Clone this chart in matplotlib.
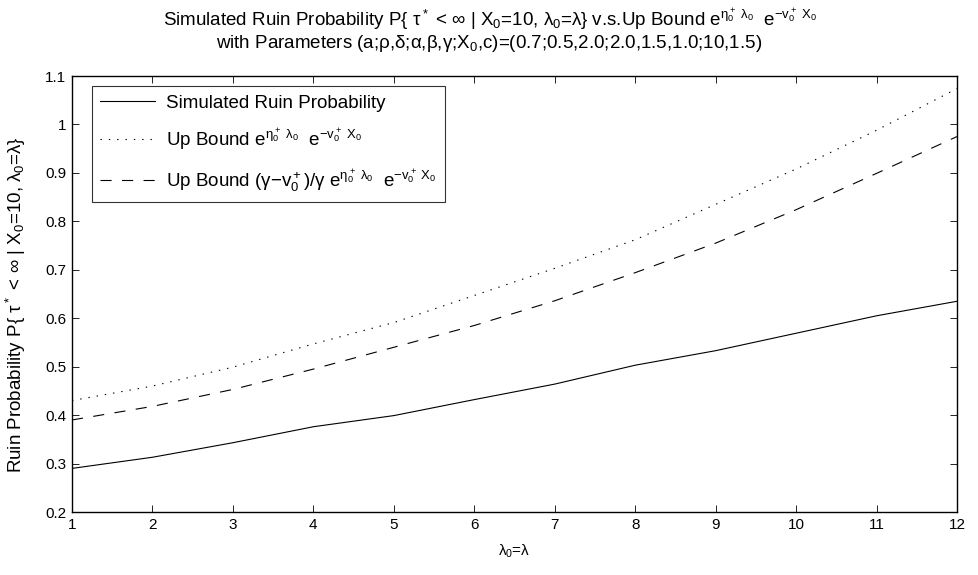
import matplotlib
matplotlib.use("Agg")
import matplotlib.pyplot as plt

lam = [1, 2, 3, 4, 5, 6, 7, 8, 9, 10, 11, 12]
simulated = [0.290, 0.313, 0.343, 0.376, 0.399, 0.432, 0.464, 0.503, 0.533, 0.569, 0.605, 0.635]
bound1 = [0.430, 0.460, 0.499, 0.547, 0.591, 0.647, 0.703, 0.762, 0.835, 0.908, 0.988, 1.074]
bound2 = [0.390, 0.418, 0.453, 0.495, 0.540, 0.585, 0.636, 0.694, 0.755, 0.824, 0.899, 0.975]
xticks = list(range(1, 13))
yticks = [0.2, 0.3, 0.4, 0.5, 0.6, 0.7, 0.8, 0.9, 1.0, 1.1]
yticklabels = ["0.2", "0.3", "0.4", "0.5", "0.6", "0.7", "0.8", "0.9", "1", "1.1"]

plt.rcParams['font.family'] = ['Liberation Sans', 'DejaVu Sans']
plt.rcParams['mathtext.fontset'] = 'custom'
plt.rcParams['mathtext.rm'] = 'Liberation Sans'
plt.rcParams['mathtext.it'] = 'Liberation Sans'
plt.rcParams['mathtext.bf'] = 'Liberation Sans:bold'
plt.rcParams['mathtext.fallback'] = 'stixsans'
plt.rcParams['lines.scale_dashes'] = False

fs_tick = 11
fs_big = 13.5
W, H = 979, 575
fig = plt.figure(figsize=(W/100, H/100), dpi=100)
ax = fig.add_axes([72/W, 1-512/H, (957-72)/W, (512-76)/H])

ax.plot(lam, simulated, color='black', lw=0.8, linestyle='-',
        label='Simulated Ruin Probability')
ax.plot(lam, bound1, color='black', lw=0.8, dashes=(1, 5),
        label=r'Up Bound e$^{\eta_0^+\ \lambda_0}$  e$^{-v_0^+\ X_0}$')
ax.plot(lam, bound2, color='black', lw=0.8, dashes=(8, 7.5),
        label=r'Up Bound (γ$-$v$_0^+$)/γ e$^{\eta_0^+\ \lambda_0}$  e$^{-v_0^+\ X_0}$')

ax.set_xlim(1, 12)
ax.set_ylim(0.2, 1.1)
ax.set_xticks(xticks)
ax.set_xticklabels([str(t) for t in xticks])
ax.set_yticks(yticks)
ax.set_yticklabels(yticklabels)
ax.tick_params(direction='in', length=5, width=0.6, top=True, right=True,
               labelsize=fs_tick, pad=4)
for s in ax.spines.values():
    s.set_linewidth(1.0)

leg = ax.legend(loc='upper left', bbox_to_anchor=(92/W, 1-86/H),
                bbox_transform=fig.transFigure, borderaxespad=0,
                fontsize=fs_big, frameon=True, fancybox=False,
                edgecolor='black', handlelength=2.9, labelspacing=0.8,
                borderpad=0.45, handletextpad=0.6)
leg.get_frame().set_linewidth(0.8)

ax.set_xlabel(r'$\lambda_0$=λ', fontsize=fs_tick)
ax.set_ylabel(r'Ruin Probability P{ $\tau^*$ < ∞ | X$_0$=10, $\lambda_0$=λ}', fontsize=13.5)
ax.xaxis.set_label_coords(0.5, -0.07)
ax.yaxis.set_label_coords(-0.05, 0.475)

fig.text(0.5, 1-19/H,
         r'Simulated Ruin Probability P{ $\tau^*$ < ∞ | X$_0$=10, $\lambda_0$=λ} v.s.Up Bound e$^{\eta_0^+\ \lambda_0}$  e$^{-v_0^+\ X_0}$',
         ha='center', va='center', fontsize=fs_big)
fig.text(0.5, 1-44/H,
         r'with Parameters (a;ρ,δ;α,β,γ;X$_0$,c)=(0.7;0.5,2.0;2.0,1.5,1.0;10,1.5)',
         ha='center', va='center', fontsize=fs_big)

fig.savefig('out.png', dpi=100)
